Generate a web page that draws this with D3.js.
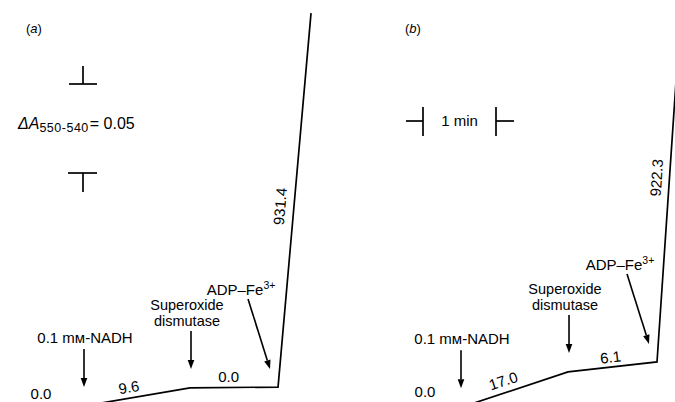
<!DOCTYPE html>
<html>
<head>
<meta charset="utf-8">
<script src="https://cdn.jsdelivr.net/npm/d3@7"></script>
<style>
  body { margin: 0; background: #fff; }
  svg { display: block; }
  text { font-family: "Liberation Sans", Arial, sans-serif; fill: #000; }
</style>
</head>
<body>
<div id="chart"></div>
<script>
// data: time (min after NADH) and absorbance change (A550-540) at each kink
const panelIds = ["a", "b"];
const eventTimes = [[0, 1.452, 2.658, 3.110], [0, 1.466, 2.685, 3.0]];
const absorbance = [[-0.0022, 0.0079, 0.0084, 0.2185], [-0.0030, 0.0169, 0.0225, 0.2132]];
const rates = [["0.0", "9.6", "0.0", "931.4"], ["0.0", "17.0", "6.1", "922.3"]];
const additions = [["0.1 mм-NADH"], ["Superoxide", "dismutase"], ["ADP–Fe", "3+"]];

(function(){
	var W = 675, H = 402;
	var PX_MIN = 73, PX_ABS = 89 / 0.05;
	var origins = [84, 461];   // x of NADH addition in each panel

	var svg = d3.select("#chart").append("svg")
							.attr("width", W).attr("height", H);

	// 矢印
	function arrow(g, x1, y1, x2, y2){
		var dx = x2 - x1, dy = y2 - y1, len = Math.sqrt(dx*dx + dy*dy);
		var ux = dx/len, uy = dy/len, hl = 9, hw = 3.3;
		var bx = x2 - ux*hl, by = y2 - uy*hl;
		g.append("line")
		 .attr("x1", x1).attr("y1", y1).attr("x2", bx).attr("y2", by)
		 .attr("stroke", "#000").attr("stroke-width", 1.6);
		g.append("path")
		 .attr("d", "M" + x2 + "," + y2 + "L" + (bx - uy*hw) + "," + (by + ux*hw) +
		            "L" + (bx + uy*hw) + "," + (by - ux*hw) + "Z")
		 .attr("fill", "#000");
	}

	panelIds.forEach(function(id, p){
		var g = svg.append("g");
		var x = d3.scaleLinear().domain([0, 1]).range([origins[p], origins[p] + PX_MIN]);
		var y = d3.scaleLinear().domain([0, 0.05]).range([H, H - 0.05*PX_ABS]);
		var pts = eventTimes[p].map(function(t, i){ return [x(t), y(absorbance[p][i])]; });

		g.append("path")
		 .attr("d", d3.line()(pts))
		 .attr("fill", "none").attr("stroke", "#000").attr("stroke-width", 1.7)
		 .attr("stroke-linejoin", "miter");

		// panel letter
		var lt = g.append("text").attr("x", p == 0 ? 26 : 405).attr("y", 33).attr("font-size", 13);
		lt.append("tspan").text("(");
		lt.append("tspan").attr("font-style", "italic").text(id);
		lt.append("tspan").text(")");

		// rate labels along segments
		var segLab = [[0, 0.44, 11], [1, 0.44, 11], [2, 0.48, 14]];
		if (p == 1) segLab = [[0, 0.43, 12], [1, 0.49, 10], [2, 0.54, 13]];
		segLab.forEach(function(s){
			var a = pts[s[0]], b = pts[s[0]+1];
			var dx = b[0]-a[0], dy = b[1]-a[1], len = Math.sqrt(dx*dx+dy*dy);
			var cx = a[0] + dx*s[1] + dy/len*s[2];
			var cy = a[1] + dy*s[1] - dx/len*s[2];
			var ang = Math.atan2(dy, dx) * 180 / Math.PI;
			if (Math.abs(ang) < 3) ang = 0;
			g.append("text")
			 .attr("transform", "translate(" + cx + "," + cy + ") rotate(" + ang + ")")
			 .attr("text-anchor", "middle").attr("dy", "0.36em")
			 .attr("font-size", 15)
			 .text(rates[p][s[0]+1]);
		});
		// rate before NADH
		g.append("text")
		 .attr("x", p == 0 ? pts[0][0] - 43 : pts[0][0] - 36)
		 .attr("y", p == 0 ? 399 : 397)
		 .attr("text-anchor", "middle").attr("font-size", 15)
		 .text(rates[p][0]);

		// NADH
		var tx = pts[0][0], tip = pts[0][1] - 19;
		arrow(g, tx, tip - 38, tx, tip);
		g.append("text").attr("x", tx + 1).attr("y", tip - 44)
		 .attr("text-anchor", "middle").attr("font-size", 15)
		 .text(additions[0][0]);

		// Superoxide dismutase
		tx = pts[1][0] + 1; tip = pts[1][1] - 19;
		arrow(g, tx, tip - 38, tx, tip);
		g.append("text").attr("x", tx - 4).attr("y", tip - 59)
		 .attr("text-anchor", "middle").attr("font-size", 14.5)
		 .text(additions[1][0]);
		g.append("text").attr("x", tx - 4).attr("y", tip - 43)
		 .attr("text-anchor", "middle").attr("font-size", 14.5)
		 .text(additions[1][1]);

		// ADP-Fe3+
		var ex = pts[2][0] - 8, ey = pts[2][1] - 18;
		arrow(g, ex - 22, ey - 70, ex, ey);
		var at = g.append("text").attr("x", ex - 29).attr("y", ey - 74)
		 .attr("text-anchor", "middle").attr("font-size", 15);
		at.append("tspan").text(additions[2][0]);
		at.append("tspan").attr("font-size", 10.5).attr("dy", -6).text(additions[2][1]);
	});

	// ΔA scale bar (panel a)
	var ya = d3.scaleLinear().domain([0, 0.05]).range([173, 173 - 0.05*PX_ABS]);
	var sb = svg.append("g").attr("stroke", "#000").attr("stroke-width", 1.7);
	sb.append("line").attr("x1", 69).attr("x2", 97).attr("y1", ya(0.05)).attr("y2", ya(0.05));
	sb.append("line").attr("x1", 83).attr("x2", 83).attr("y1", ya(0.05) - 18).attr("y2", ya(0.05));
	sb.append("line").attr("x1", 68).attr("x2", 97).attr("y1", ya(0)).attr("y2", ya(0));
	sb.append("line").attr("x1", 83).attr("x2", 83).attr("y1", ya(0)).attr("y2", ya(0) + 19);

	var da = svg.append("text").attr("x", 18).attr("y", 129).attr("font-size", 16);
	da.append("tspan").attr("font-style", "italic").text("ΔA");
	da.append("tspan").attr("font-size", 12.5).attr("dy", 3).attr("letter-spacing", 0.5).text("550-540");
	da.append("tspan").attr("dy", -3).attr("dx", 1).text("= 0.05");

	// 1 min scale bar (panel b)
	var xm = d3.scaleLinear().domain([0, 1]).range([423, 423 + PX_MIN]);
	var mb = svg.append("g").attr("stroke", "#000").attr("stroke-width", 1.7);
	mb.append("line").attr("x1", xm(0) - 17).attr("x2", xm(0)).attr("y1", 121).attr("y2", 121);
	mb.append("line").attr("x1", xm(0)).attr("x2", xm(0)).attr("y1", 107).attr("y2", 136);
	mb.append("line").attr("x1", xm(1)).attr("x2", xm(1)).attr("y1", 107).attr("y2", 136);
	mb.append("line").attr("x1", xm(1)).attr("x2", xm(1) + 18).attr("y1", 121).attr("y2", 121);
	svg.append("text").attr("x", xm(0.5)).attr("y", 126)
	 .attr("text-anchor", "middle").attr("font-size", 15).text("1 min");
})();
</script>
</body>
</html>
